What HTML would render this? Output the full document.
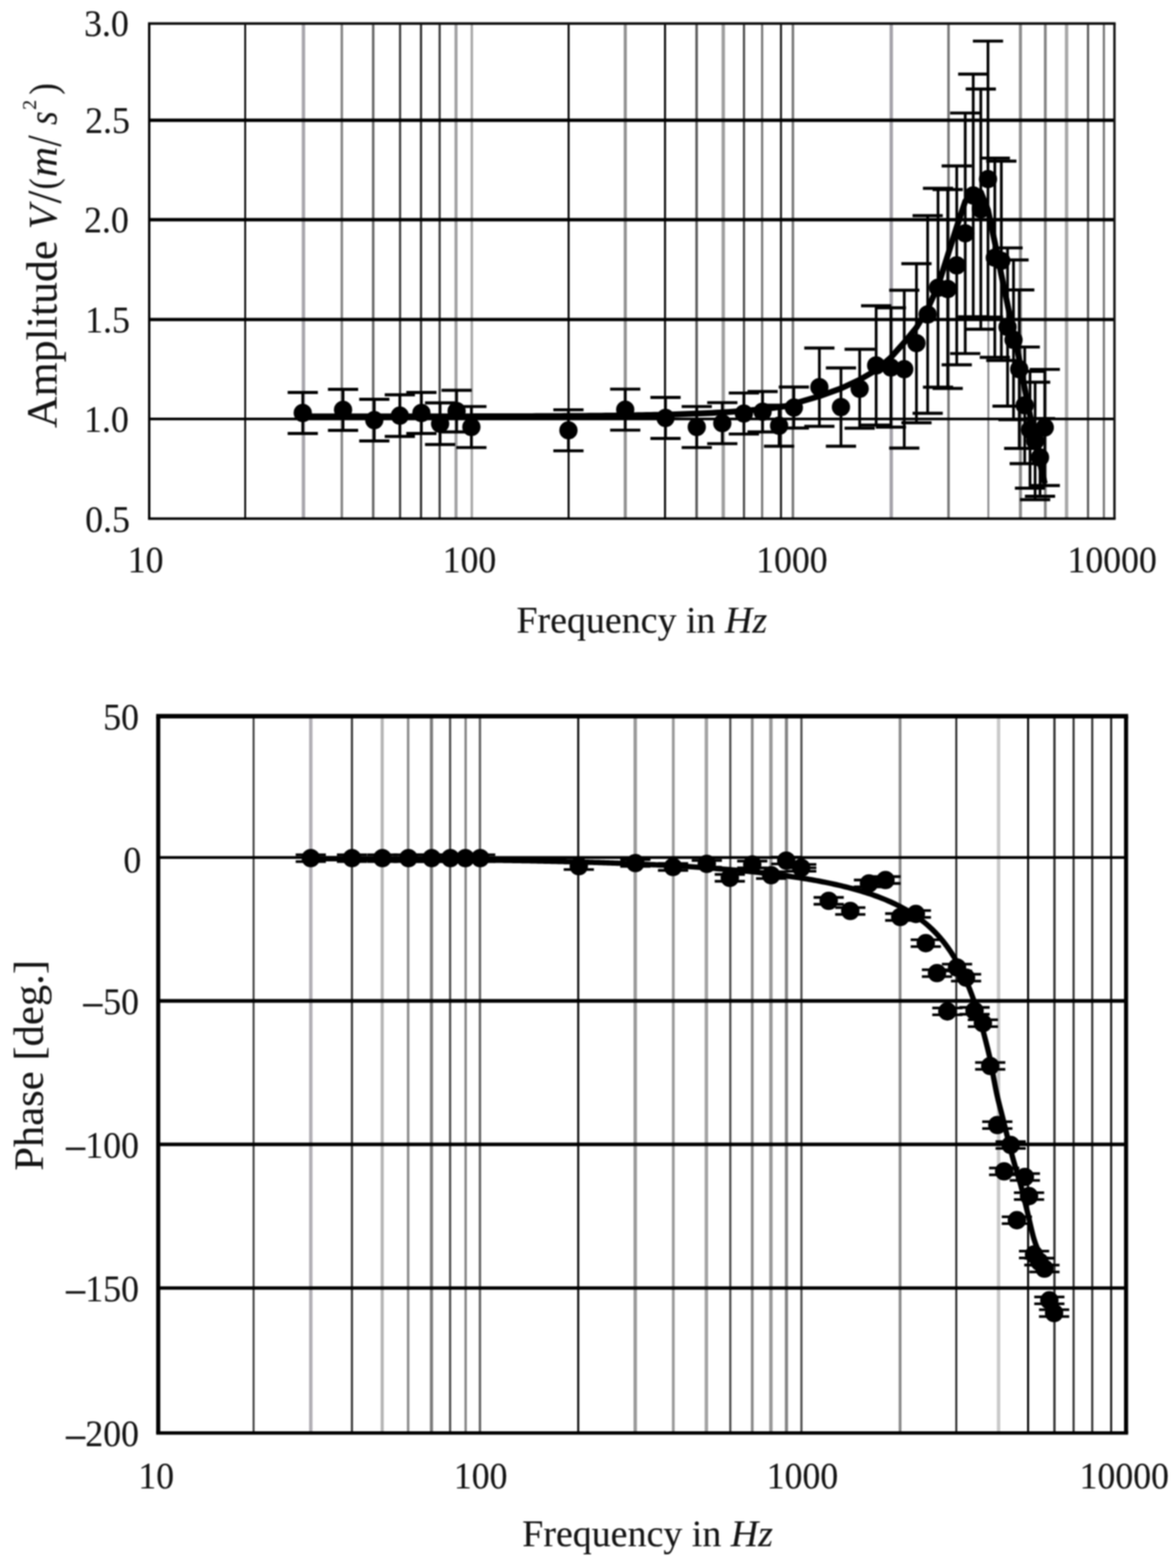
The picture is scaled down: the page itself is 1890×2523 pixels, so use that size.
<!DOCTYPE html>
<html lang="en">
<head>
<meta charset="utf-8">
<title>Frequency response: amplitude and phase</title>
<style>
html,body{margin:0;padding:0;background:#fff;}
body{width:1890px;height:2523px;overflow:hidden;}
svg{display:block;}
</style>
</head>
<body>
<svg width="1890" height="2523" viewBox="0 0 1890 2523">
<defs><filter id="soft" x="-2%" y="-2%" width="104%" height="104%" color-interpolation-filters="sRGB"><feGaussianBlur stdDeviation="1.0"/></filter><filter id="softtext" x="-2%" y="-2%" width="104%" height="104%" color-interpolation-filters="sRGB"><feGaussianBlur stdDeviation="0.8"/></filter></defs>
<rect width="1890" height="2523" fill="#fff"/>
<g filter="url(#soft)">
<g id="top-chart">
<line x1="394.40" y1="37.90" x2="394.40" y2="834.50" stroke="#080808" stroke-width="3.0" />
<line x1="488.10" y1="37.90" x2="488.10" y2="834.50" stroke="#a8a6ac" stroke-width="5.5" />
<line x1="549.80" y1="37.90" x2="549.80" y2="834.50" stroke="#848484" stroke-width="4.0" />
<line x1="600.30" y1="37.90" x2="600.30" y2="834.50" stroke="#666666" stroke-width="4.0" />
<line x1="643.50" y1="37.90" x2="643.50" y2="834.50" stroke="#3a3a3a" stroke-width="3.5" />
<line x1="677.20" y1="37.90" x2="677.20" y2="834.50" stroke="#2b2b2b" stroke-width="3.5" />
<line x1="707.20" y1="37.90" x2="707.20" y2="834.50" stroke="#3a3a3a" stroke-width="3.5" />
<line x1="733.50" y1="37.90" x2="733.50" y2="834.50" stroke="#a2a2a4" stroke-width="5.0" />
<line x1="758.90" y1="37.90" x2="758.90" y2="834.50" stroke="#a8a8a8" stroke-width="4.0" />
<line x1="914.60" y1="37.90" x2="914.60" y2="834.50" stroke="#080808" stroke-width="3.3" />
<line x1="1005.80" y1="37.90" x2="1005.80" y2="834.50" stroke="#909090" stroke-width="5.0" />
<line x1="1069.70" y1="37.90" x2="1069.70" y2="834.50" stroke="#080808" stroke-width="3.3" />
<line x1="1120.50" y1="37.90" x2="1120.50" y2="834.50" stroke="#575757" stroke-width="4.0" />
<line x1="1163.40" y1="37.90" x2="1163.40" y2="834.50" stroke="#9e9e9e" stroke-width="5.5" />
<line x1="1196.70" y1="37.90" x2="1196.70" y2="834.50" stroke="#494949" stroke-width="3.5" />
<line x1="1225.90" y1="37.90" x2="1225.90" y2="834.50" stroke="#747474" stroke-width="3.5" />
<line x1="1256.20" y1="37.90" x2="1256.20" y2="834.50" stroke="#141414" stroke-width="3.2" />
<line x1="1275.40" y1="37.90" x2="1275.40" y2="834.50" stroke="#747474" stroke-width="4.0" />
<line x1="1433.60" y1="37.90" x2="1433.60" y2="834.50" stroke="#a5a3aa" stroke-width="5.5" />
<line x1="1525.70" y1="37.90" x2="1525.70" y2="834.50" stroke="#747474" stroke-width="4.0" />
<line x1="1589.80" y1="512.00" x2="1589.80" y2="834.50" stroke="#868689" stroke-width="3.0" />
<line x1="1641.40" y1="37.90" x2="1641.40" y2="834.50" stroke="#8e8e8e" stroke-width="5.0" />
<line x1="1681.40" y1="37.90" x2="1681.40" y2="834.50" stroke="#838383" stroke-width="4.5" />
<line x1="1715.60" y1="37.90" x2="1715.60" y2="834.50" stroke="#a8a8a8" stroke-width="5.5" />
<line x1="1750.10" y1="37.90" x2="1750.10" y2="834.50" stroke="#575757" stroke-width="3.5" />
<line x1="1775.60" y1="37.90" x2="1775.60" y2="834.50" stroke="#747474" stroke-width="3.5" />
<line x1="240.00" y1="193.50" x2="1792.60" y2="193.50" stroke="#000" stroke-width="5.3" />
<line x1="240.00" y1="353.50" x2="1792.60" y2="353.50" stroke="#000" stroke-width="5.6" />
<line x1="240.00" y1="514.20" x2="1792.60" y2="514.20" stroke="#000" stroke-width="5.3" />
<line x1="240.00" y1="674.20" x2="1792.60" y2="674.20" stroke="#000" stroke-width="4.2" />
<line x1="238.10" y1="37.90" x2="1794.50" y2="37.90" stroke="#111" stroke-width="4.3" />
<line x1="238.10" y1="834.50" x2="1794.50" y2="834.50" stroke="#000" stroke-width="4.2" />
<line x1="240.00" y1="37.90" x2="240.00" y2="834.50" stroke="#000" stroke-width="3.8" />
<line x1="1792.60" y1="37.90" x2="1792.60" y2="834.50" stroke="#111" stroke-width="3.8" />
<line x1="486.98" y1="631.50" x2="486.98" y2="697.50" stroke="#000" stroke-width="4.4" />
<line x1="462.68" y1="631.50" x2="511.28" y2="631.50" stroke="#000" stroke-width="4.9" />
<line x1="462.68" y1="697.50" x2="511.28" y2="697.50" stroke="#000" stroke-width="4.9" />
<line x1="551.79" y1="626.50" x2="551.79" y2="692.50" stroke="#000" stroke-width="4.4" />
<line x1="527.49" y1="626.50" x2="576.09" y2="626.50" stroke="#000" stroke-width="4.9" />
<line x1="527.49" y1="692.50" x2="576.09" y2="692.50" stroke="#000" stroke-width="4.9" />
<line x1="602.06" y1="642.50" x2="602.06" y2="709.50" stroke="#000" stroke-width="4.4" />
<line x1="577.76" y1="642.50" x2="626.36" y2="642.50" stroke="#000" stroke-width="4.9" />
<line x1="577.76" y1="709.50" x2="626.36" y2="709.50" stroke="#000" stroke-width="4.9" />
<line x1="643.13" y1="635.30" x2="643.13" y2="702.30" stroke="#000" stroke-width="4.4" />
<line x1="618.83" y1="635.30" x2="667.43" y2="635.30" stroke="#000" stroke-width="4.9" />
<line x1="618.83" y1="702.30" x2="667.43" y2="702.30" stroke="#000" stroke-width="4.9" />
<line x1="677.85" y1="631.50" x2="677.85" y2="697.50" stroke="#000" stroke-width="4.4" />
<line x1="653.55" y1="631.50" x2="702.15" y2="631.50" stroke="#000" stroke-width="4.9" />
<line x1="653.55" y1="697.50" x2="702.15" y2="697.50" stroke="#000" stroke-width="4.9" />
<line x1="707.93" y1="648.30" x2="707.93" y2="715.30" stroke="#000" stroke-width="4.4" />
<line x1="683.63" y1="648.30" x2="732.23" y2="648.30" stroke="#000" stroke-width="4.9" />
<line x1="683.63" y1="715.30" x2="732.23" y2="715.30" stroke="#000" stroke-width="4.9" />
<line x1="734.47" y1="628.00" x2="734.47" y2="695.00" stroke="#000" stroke-width="4.4" />
<line x1="710.17" y1="628.00" x2="758.77" y2="628.00" stroke="#000" stroke-width="4.9" />
<line x1="710.17" y1="695.00" x2="758.77" y2="695.00" stroke="#000" stroke-width="4.9" />
<line x1="758.20" y1="654.10" x2="758.20" y2="720.10" stroke="#000" stroke-width="4.4" />
<line x1="733.90" y1="654.10" x2="782.50" y2="654.10" stroke="#000" stroke-width="4.9" />
<line x1="733.90" y1="720.10" x2="782.50" y2="720.10" stroke="#000" stroke-width="4.9" />
<line x1="914.34" y1="659.40" x2="914.34" y2="725.40" stroke="#000" stroke-width="4.4" />
<line x1="890.04" y1="659.40" x2="938.64" y2="659.40" stroke="#000" stroke-width="4.9" />
<line x1="890.04" y1="725.40" x2="938.64" y2="725.40" stroke="#000" stroke-width="4.9" />
<line x1="1005.68" y1="626.10" x2="1005.68" y2="692.10" stroke="#000" stroke-width="4.4" />
<line x1="981.38" y1="626.10" x2="1029.98" y2="626.10" stroke="#000" stroke-width="4.9" />
<line x1="981.38" y1="692.10" x2="1029.98" y2="692.10" stroke="#000" stroke-width="4.9" />
<line x1="1070.49" y1="639.50" x2="1070.49" y2="705.50" stroke="#000" stroke-width="4.4" />
<line x1="1046.19" y1="639.50" x2="1094.79" y2="639.50" stroke="#000" stroke-width="4.9" />
<line x1="1046.19" y1="705.50" x2="1094.79" y2="705.50" stroke="#000" stroke-width="4.9" />
<line x1="1120.76" y1="654.10" x2="1120.76" y2="720.10" stroke="#000" stroke-width="4.4" />
<line x1="1096.46" y1="654.10" x2="1145.06" y2="654.10" stroke="#000" stroke-width="4.9" />
<line x1="1096.46" y1="720.10" x2="1145.06" y2="720.10" stroke="#000" stroke-width="4.9" />
<line x1="1161.83" y1="647.90" x2="1161.83" y2="713.90" stroke="#000" stroke-width="4.4" />
<line x1="1137.53" y1="647.90" x2="1186.13" y2="647.90" stroke="#000" stroke-width="4.9" />
<line x1="1137.53" y1="713.90" x2="1186.13" y2="713.90" stroke="#000" stroke-width="4.9" />
<line x1="1196.55" y1="632.40" x2="1196.55" y2="698.40" stroke="#000" stroke-width="4.4" />
<line x1="1172.25" y1="632.40" x2="1220.85" y2="632.40" stroke="#000" stroke-width="4.9" />
<line x1="1172.25" y1="698.40" x2="1220.85" y2="698.40" stroke="#000" stroke-width="4.9" />
<line x1="1226.63" y1="630.00" x2="1226.63" y2="695.00" stroke="#000" stroke-width="4.4" />
<line x1="1202.33" y1="630.00" x2="1250.93" y2="630.00" stroke="#000" stroke-width="4.9" />
<line x1="1202.33" y1="695.00" x2="1250.93" y2="695.00" stroke="#000" stroke-width="4.9" />
<line x1="1253.17" y1="652.00" x2="1253.17" y2="718.00" stroke="#000" stroke-width="4.4" />
<line x1="1228.87" y1="652.00" x2="1277.47" y2="652.00" stroke="#000" stroke-width="4.9" />
<line x1="1228.87" y1="718.00" x2="1277.47" y2="718.00" stroke="#000" stroke-width="4.9" />
<line x1="1276.90" y1="622.80" x2="1276.90" y2="688.80" stroke="#000" stroke-width="4.4" />
<line x1="1252.60" y1="622.80" x2="1301.20" y2="622.80" stroke="#000" stroke-width="4.9" />
<line x1="1252.60" y1="688.80" x2="1301.20" y2="688.80" stroke="#000" stroke-width="4.9" />
<line x1="1317.97" y1="560.00" x2="1317.97" y2="686.00" stroke="#000" stroke-width="4.4" />
<line x1="1293.67" y1="560.00" x2="1342.27" y2="560.00" stroke="#000" stroke-width="4.9" />
<line x1="1293.67" y1="686.00" x2="1342.27" y2="686.00" stroke="#000" stroke-width="4.9" />
<line x1="1352.70" y1="592.00" x2="1352.70" y2="718.00" stroke="#000" stroke-width="4.4" />
<line x1="1328.40" y1="592.00" x2="1377.00" y2="592.00" stroke="#000" stroke-width="4.9" />
<line x1="1328.40" y1="718.00" x2="1377.00" y2="718.00" stroke="#000" stroke-width="4.9" />
<line x1="1382.78" y1="562.00" x2="1382.78" y2="689.00" stroke="#000" stroke-width="4.4" />
<line x1="1358.48" y1="562.00" x2="1407.08" y2="562.00" stroke="#000" stroke-width="4.9" />
<line x1="1358.48" y1="689.00" x2="1407.08" y2="689.00" stroke="#000" stroke-width="4.9" />
<line x1="1409.31" y1="492.00" x2="1409.31" y2="684.00" stroke="#000" stroke-width="4.4" />
<line x1="1385.01" y1="492.00" x2="1433.61" y2="492.00" stroke="#000" stroke-width="4.9" />
<line x1="1385.01" y1="684.00" x2="1433.61" y2="684.00" stroke="#000" stroke-width="4.9" />
<line x1="1433.04" y1="495.30" x2="1433.04" y2="687.30" stroke="#000" stroke-width="4.4" />
<line x1="1408.74" y1="495.30" x2="1457.34" y2="495.30" stroke="#000" stroke-width="4.9" />
<line x1="1408.74" y1="687.30" x2="1457.34" y2="687.30" stroke="#000" stroke-width="4.9" />
<line x1="1454.51" y1="467.00" x2="1454.51" y2="721.00" stroke="#000" stroke-width="4.4" />
<line x1="1430.21" y1="467.00" x2="1478.81" y2="467.00" stroke="#000" stroke-width="4.9" />
<line x1="1430.21" y1="721.00" x2="1478.81" y2="721.00" stroke="#000" stroke-width="4.9" />
<line x1="1474.12" y1="424.20" x2="1474.12" y2="680.20" stroke="#000" stroke-width="4.4" />
<line x1="1449.82" y1="424.20" x2="1498.42" y2="424.20" stroke="#000" stroke-width="4.9" />
<line x1="1449.82" y1="680.20" x2="1498.42" y2="680.20" stroke="#000" stroke-width="4.9" />
<line x1="1492.15" y1="347.00" x2="1492.15" y2="665.00" stroke="#000" stroke-width="4.4" />
<line x1="1467.85" y1="347.00" x2="1516.45" y2="347.00" stroke="#000" stroke-width="4.9" />
<line x1="1467.85" y1="665.00" x2="1516.45" y2="665.00" stroke="#000" stroke-width="4.9" />
<line x1="1508.84" y1="303.00" x2="1508.84" y2="623.00" stroke="#000" stroke-width="4.4" />
<line x1="1484.54" y1="303.00" x2="1533.14" y2="303.00" stroke="#000" stroke-width="4.9" />
<line x1="1484.54" y1="623.00" x2="1533.14" y2="623.00" stroke="#000" stroke-width="4.9" />
<line x1="1524.38" y1="305.00" x2="1524.38" y2="625.00" stroke="#000" stroke-width="4.4" />
<line x1="1500.08" y1="305.00" x2="1548.68" y2="305.00" stroke="#000" stroke-width="4.9" />
<line x1="1500.08" y1="625.00" x2="1548.68" y2="625.00" stroke="#000" stroke-width="4.9" />
<line x1="1538.92" y1="267.00" x2="1538.92" y2="587.00" stroke="#000" stroke-width="4.4" />
<line x1="1514.62" y1="267.00" x2="1563.22" y2="267.00" stroke="#000" stroke-width="4.9" />
<line x1="1514.62" y1="587.00" x2="1563.22" y2="587.00" stroke="#000" stroke-width="4.9" />
<line x1="1552.58" y1="181.90" x2="1552.58" y2="568.90" stroke="#000" stroke-width="4.4" />
<line x1="1528.28" y1="181.90" x2="1576.88" y2="181.90" stroke="#000" stroke-width="4.9" />
<line x1="1528.28" y1="568.90" x2="1576.88" y2="568.90" stroke="#000" stroke-width="4.9" />
<line x1="1565.45" y1="119.20" x2="1565.45" y2="509.80" stroke="#000" stroke-width="4.4" />
<line x1="1541.15" y1="119.20" x2="1589.75" y2="119.20" stroke="#000" stroke-width="4.9" />
<line x1="1541.15" y1="509.80" x2="1589.75" y2="509.80" stroke="#000" stroke-width="4.9" />
<line x1="1577.63" y1="143.30" x2="1577.63" y2="529.70" stroke="#000" stroke-width="4.4" />
<line x1="1553.33" y1="143.30" x2="1601.93" y2="143.30" stroke="#000" stroke-width="4.9" />
<line x1="1553.33" y1="529.70" x2="1601.93" y2="529.70" stroke="#000" stroke-width="4.9" />
<line x1="1589.19" y1="66.10" x2="1589.19" y2="510.30" stroke="#000" stroke-width="4.4" />
<line x1="1564.89" y1="66.10" x2="1613.49" y2="66.10" stroke="#000" stroke-width="4.9" />
<line x1="1564.89" y1="510.30" x2="1613.49" y2="510.30" stroke="#000" stroke-width="4.9" />
<line x1="1600.18" y1="254.40" x2="1600.18" y2="575.00" stroke="#000" stroke-width="4.4" />
<line x1="1575.88" y1="254.40" x2="1624.48" y2="254.40" stroke="#000" stroke-width="4.9" />
<line x1="1575.88" y1="575.00" x2="1624.48" y2="575.00" stroke="#000" stroke-width="4.9" />
<line x1="1610.66" y1="259.20" x2="1610.66" y2="580.00" stroke="#000" stroke-width="4.4" />
<line x1="1586.36" y1="259.20" x2="1634.96" y2="259.20" stroke="#000" stroke-width="4.9" />
<line x1="1586.36" y1="580.00" x2="1634.96" y2="580.00" stroke="#000" stroke-width="4.9" />
<line x1="1620.67" y1="398.90" x2="1620.67" y2="653.50" stroke="#000" stroke-width="4.4" />
<line x1="1596.37" y1="398.90" x2="1644.97" y2="398.90" stroke="#000" stroke-width="4.9" />
<line x1="1596.37" y1="653.50" x2="1644.97" y2="653.50" stroke="#000" stroke-width="4.9" />
<line x1="1630.26" y1="418.30" x2="1630.26" y2="675.30" stroke="#000" stroke-width="4.4" />
<line x1="1605.96" y1="418.30" x2="1654.56" y2="418.30" stroke="#000" stroke-width="4.9" />
<line x1="1605.96" y1="675.30" x2="1654.56" y2="675.30" stroke="#000" stroke-width="4.9" />
<line x1="1639.46" y1="466.50" x2="1639.46" y2="721.50" stroke="#000" stroke-width="4.4" />
<line x1="1615.16" y1="466.50" x2="1663.76" y2="466.50" stroke="#000" stroke-width="4.9" />
<line x1="1615.16" y1="721.50" x2="1663.76" y2="721.50" stroke="#000" stroke-width="4.9" />
<line x1="1648.29" y1="558.40" x2="1648.29" y2="746.00" stroke="#000" stroke-width="4.4" />
<line x1="1623.99" y1="558.40" x2="1672.59" y2="558.40" stroke="#000" stroke-width="4.9" />
<line x1="1623.99" y1="746.00" x2="1672.59" y2="746.00" stroke="#000" stroke-width="4.9" />
<line x1="1656.79" y1="597.50" x2="1656.79" y2="785.50" stroke="#000" stroke-width="4.4" />
<line x1="1632.49" y1="597.50" x2="1681.09" y2="597.50" stroke="#000" stroke-width="4.9" />
<line x1="1632.49" y1="785.50" x2="1681.09" y2="785.50" stroke="#000" stroke-width="4.9" />
<line x1="1664.99" y1="615.00" x2="1664.99" y2="804.00" stroke="#000" stroke-width="4.4" />
<line x1="1640.69" y1="615.00" x2="1689.29" y2="615.00" stroke="#000" stroke-width="4.9" />
<line x1="1640.69" y1="804.00" x2="1689.29" y2="804.00" stroke="#000" stroke-width="4.9" />
<line x1="1672.89" y1="673.50" x2="1672.89" y2="798.50" stroke="#000" stroke-width="4.4" />
<line x1="1648.59" y1="673.50" x2="1697.19" y2="673.50" stroke="#000" stroke-width="4.9" />
<line x1="1648.59" y1="798.50" x2="1697.19" y2="798.50" stroke="#000" stroke-width="4.9" />
<line x1="1680.53" y1="594.40" x2="1680.53" y2="781.20" stroke="#000" stroke-width="4.4" />
<line x1="1656.23" y1="594.40" x2="1704.83" y2="594.40" stroke="#000" stroke-width="4.9" />
<line x1="1656.23" y1="781.20" x2="1704.83" y2="781.20" stroke="#000" stroke-width="4.9" />
<path d="M486.98,670.04 L493.57,670.03 L500.15,670.03 L506.73,670.03 L513.31,670.03 L519.90,670.03 L526.48,670.03 L533.06,670.03 L539.64,670.03 L546.23,670.02 L552.81,670.02 L559.39,670.02 L565.97,670.02 L572.56,670.02 L579.14,670.02 L585.72,670.01 L592.31,670.01 L598.89,670.01 L605.47,670.01 L612.05,670.00 L618.64,670.00 L625.22,670.00 L631.80,669.99 L638.38,669.99 L644.97,669.99 L651.55,669.98 L658.13,669.98 L664.71,669.97 L671.30,669.97 L677.88,669.96 L684.46,669.96 L691.04,669.95 L697.63,669.95 L704.21,669.94 L710.79,669.93 L717.38,669.93 L723.96,669.92 L730.54,669.91 L737.12,669.90 L743.71,669.89 L750.29,669.89 L756.87,669.88 L763.45,669.86 L770.04,669.85 L776.62,669.84 L783.20,669.83 L789.78,669.82 L796.37,669.80 L802.95,669.79 L809.53,669.77 L816.11,669.75 L822.70,669.73 L829.28,669.72 L835.86,669.70 L842.45,669.67 L849.03,669.65 L855.61,669.63 L862.19,669.60 L868.78,669.57 L875.36,669.55 L881.94,669.52 L888.52,669.48 L895.11,669.45 L901.69,669.41 L908.27,669.37 L914.85,669.33 L921.44,669.29 L928.02,669.24 L934.60,669.20 L941.19,669.14 L947.77,669.09 L954.35,669.03 L960.93,668.97 L967.52,668.90 L974.10,668.83 L980.68,668.76 L987.26,668.68 L993.85,668.60 L1000.43,668.51 L1007.01,668.42 L1013.59,668.32 L1020.18,668.22 L1026.76,668.10 L1033.34,667.99 L1039.92,667.86 L1046.51,667.73 L1053.09,667.59 L1059.67,667.44 L1066.26,667.28 L1072.84,667.11 L1079.42,666.93 L1086.00,666.75 L1092.59,666.54 L1099.17,666.33 L1105.75,666.11 L1112.33,665.87 L1118.92,665.61 L1125.50,665.34 L1132.08,665.05 L1138.66,664.75 L1145.25,664.42 L1151.83,664.08 L1158.41,663.71 L1165.00,663.33 L1171.58,662.91 L1178.16,662.48 L1184.74,662.01 L1191.33,661.52 L1197.91,660.99 L1204.49,660.43 L1211.07,659.84 L1217.66,659.20 L1224.24,658.53 L1230.82,657.82 L1237.40,657.06 L1243.99,656.25 L1250.57,655.38 L1257.15,654.46 L1263.73,653.49 L1270.32,652.44 L1276.90,649.50 L1317.97,637.50 L1352.70,625.00 L1382.78,611.00 L1409.31,595.50 L1433.04,575.00 L1454.51,551.00 L1474.12,527.00 L1492.15,497.00 L1508.84,460.00 L1524.38,411.00 L1538.92,365.00 L1552.58,324.00 L1565.45,306.00 L1577.63,309.00 L1589.19,338.00 L1600.18,390.00 L1610.66,442.00 L1620.67,490.00 L1630.26,535.00 L1639.46,578.00 L1648.29,625.00 L1656.79,668.00 L1664.99,708.00 L1672.89,745.00 L1680.53,778.00" fill="none" stroke="#000" stroke-width="9.5" stroke-linejoin="round" stroke-linecap="butt"/>
<circle cx="486.98" cy="664.50" r="14.7" fill="#000"/>
<circle cx="551.79" cy="659.50" r="14.7" fill="#000"/>
<circle cx="602.06" cy="676.00" r="14.7" fill="#000"/>
<circle cx="643.13" cy="668.80" r="14.7" fill="#000"/>
<circle cx="677.85" cy="664.50" r="14.7" fill="#000"/>
<circle cx="707.93" cy="681.80" r="14.7" fill="#000"/>
<circle cx="734.47" cy="661.50" r="14.7" fill="#000"/>
<circle cx="758.20" cy="687.10" r="14.7" fill="#000"/>
<circle cx="914.34" cy="692.40" r="14.7" fill="#000"/>
<circle cx="1005.68" cy="659.10" r="14.7" fill="#000"/>
<circle cx="1070.49" cy="672.50" r="14.7" fill="#000"/>
<circle cx="1120.76" cy="687.10" r="14.7" fill="#000"/>
<circle cx="1161.83" cy="680.90" r="14.7" fill="#000"/>
<circle cx="1196.55" cy="665.40" r="14.7" fill="#000"/>
<circle cx="1226.63" cy="662.50" r="14.7" fill="#000"/>
<circle cx="1253.17" cy="685.00" r="14.7" fill="#000"/>
<circle cx="1276.90" cy="655.80" r="14.7" fill="#000"/>
<circle cx="1317.97" cy="623.00" r="14.7" fill="#000"/>
<circle cx="1352.70" cy="655.00" r="14.7" fill="#000"/>
<circle cx="1382.78" cy="625.50" r="14.7" fill="#000"/>
<circle cx="1409.31" cy="588.00" r="14.7" fill="#000"/>
<circle cx="1433.04" cy="591.30" r="14.7" fill="#000"/>
<circle cx="1454.51" cy="594.00" r="14.7" fill="#000"/>
<circle cx="1474.12" cy="552.20" r="14.7" fill="#000"/>
<circle cx="1492.15" cy="506.00" r="14.7" fill="#000"/>
<circle cx="1508.84" cy="463.00" r="14.7" fill="#000"/>
<circle cx="1524.38" cy="465.00" r="14.7" fill="#000"/>
<circle cx="1538.92" cy="427.00" r="14.7" fill="#000"/>
<circle cx="1552.58" cy="375.40" r="14.7" fill="#000"/>
<circle cx="1565.45" cy="314.50" r="14.7" fill="#000"/>
<circle cx="1577.63" cy="336.50" r="14.7" fill="#000"/>
<circle cx="1589.19" cy="288.20" r="14.7" fill="#000"/>
<circle cx="1600.18" cy="414.70" r="14.7" fill="#000"/>
<circle cx="1610.66" cy="419.60" r="14.7" fill="#000"/>
<circle cx="1620.67" cy="526.20" r="14.7" fill="#000"/>
<circle cx="1630.26" cy="546.80" r="14.7" fill="#000"/>
<circle cx="1639.46" cy="594.00" r="14.7" fill="#000"/>
<circle cx="1648.29" cy="652.20" r="14.7" fill="#000"/>
<circle cx="1656.79" cy="691.50" r="14.7" fill="#000"/>
<circle cx="1664.99" cy="709.50" r="14.7" fill="#000"/>
<circle cx="1672.89" cy="736.00" r="14.7" fill="#000"/>
<circle cx="1680.53" cy="687.80" r="14.7" fill="#000"/>
</g>
<g id="bottom-chart">
<line x1="407.90" y1="1152.40" x2="407.90" y2="2305.70" stroke="#343434" stroke-width="3.0" />
<line x1="499.90" y1="1152.40" x2="499.90" y2="2305.70" stroke="#b0aeb4" stroke-width="5.5" />
<line x1="566.10" y1="1152.40" x2="566.10" y2="2305.70" stroke="#343434" stroke-width="3.4" />
<line x1="614.80" y1="1152.40" x2="614.80" y2="2305.70" stroke="#b4b4b4" stroke-width="5.0" />
<line x1="656.50" y1="1152.40" x2="656.50" y2="2305.70" stroke="#898989" stroke-width="4.0" />
<line x1="694.00" y1="1152.40" x2="694.00" y2="2305.70" stroke="#7a7a7a" stroke-width="5.0" />
<line x1="724.00" y1="1152.40" x2="724.00" y2="2305.70" stroke="#4c4c4c" stroke-width="3.5" />
<line x1="749.00" y1="1152.40" x2="749.00" y2="2305.70" stroke="#898989" stroke-width="4.0" />
<line x1="772.00" y1="1152.40" x2="772.00" y2="2305.70" stroke="#6b6b6b" stroke-width="4.0" />
<line x1="930.10" y1="1152.40" x2="930.10" y2="2305.70" stroke="#090909" stroke-width="3.3" />
<line x1="1021.80" y1="1152.40" x2="1021.80" y2="2305.70" stroke="#999999" stroke-width="5.5" />
<line x1="1083.00" y1="1152.40" x2="1083.00" y2="2305.70" stroke="#999999" stroke-width="4.5" />
<line x1="1136.20" y1="1152.40" x2="1136.20" y2="2305.70" stroke="#a2a2a2" stroke-width="5.5" />
<line x1="1174.70" y1="1152.40" x2="1174.70" y2="2305.70" stroke="#4c4c4c" stroke-width="3.5" />
<line x1="1210.00" y1="1152.40" x2="1210.00" y2="2305.70" stroke="#898989" stroke-width="4.5" />
<line x1="1240.00" y1="1152.40" x2="1240.00" y2="2305.70" stroke="#999999" stroke-width="5.5" />
<line x1="1265.00" y1="1152.40" x2="1265.00" y2="2305.70" stroke="#818181" stroke-width="5.0" />
<line x1="1289.10" y1="1152.40" x2="1289.10" y2="2305.70" stroke="#4c4c4c" stroke-width="3.5" />
<line x1="1447.80" y1="1152.40" x2="1447.80" y2="2305.70" stroke="#898989" stroke-width="4.5" />
<line x1="1538.20" y1="1152.40" x2="1538.20" y2="2305.70" stroke="#222222" stroke-width="3.1" />
<line x1="1606.20" y1="1152.40" x2="1606.20" y2="2305.70" stroke="#c9c9c9" stroke-width="5.5" />
<line x1="1653.70" y1="1152.40" x2="1653.70" y2="2305.70" stroke="#040404" stroke-width="3.3" />
<line x1="1696.10" y1="1152.40" x2="1696.10" y2="2305.70" stroke="#363636" stroke-width="3.8" />
<line x1="1726.90" y1="1152.40" x2="1726.90" y2="2305.70" stroke="#2d2d2d" stroke-width="3.3" />
<line x1="1756.90" y1="1152.40" x2="1756.90" y2="2305.70" stroke="#2d2d2d" stroke-width="3.3" />
<line x1="1787.30" y1="1152.40" x2="1787.30" y2="2305.70" stroke="#1e1e1e" stroke-width="3.3" />
<line x1="254.50" y1="1379.70" x2="1811.30" y2="1379.70" stroke="#000" stroke-width="4.4" />
<line x1="254.50" y1="1610.40" x2="1811.30" y2="1610.40" stroke="#000" stroke-width="6.0" />
<line x1="254.50" y1="1841.40" x2="1811.30" y2="1841.40" stroke="#000" stroke-width="5.6" />
<line x1="254.50" y1="2072.50" x2="1811.30" y2="2072.50" stroke="#000" stroke-width="5.3" />
<line x1="251.20" y1="1152.40" x2="1814.60" y2="1152.40" stroke="#000" stroke-width="7.2" />
<line x1="251.20" y1="2305.70" x2="1814.60" y2="2305.70" stroke="#000" stroke-width="5.4" />
<line x1="254.50" y1="1152.40" x2="254.50" y2="2305.70" stroke="#000" stroke-width="6.6" />
<line x1="1811.30" y1="1152.40" x2="1811.30" y2="2305.70" stroke="#000" stroke-width="6.6" />
<line x1="475.60" y1="1375.30" x2="524.20" y2="1375.30" stroke="#000" stroke-width="4.3" />
<line x1="475.60" y1="1386.30" x2="524.20" y2="1386.30" stroke="#000" stroke-width="4.3" />
<line x1="541.90" y1="1375.30" x2="590.50" y2="1375.30" stroke="#000" stroke-width="4.3" />
<line x1="541.90" y1="1386.30" x2="590.50" y2="1386.30" stroke="#000" stroke-width="4.3" />
<line x1="590.80" y1="1375.30" x2="639.40" y2="1375.30" stroke="#000" stroke-width="4.3" />
<line x1="590.80" y1="1386.30" x2="639.40" y2="1386.30" stroke="#000" stroke-width="4.3" />
<line x1="632.70" y1="1375.30" x2="681.30" y2="1375.30" stroke="#000" stroke-width="4.3" />
<line x1="632.70" y1="1386.30" x2="681.30" y2="1386.30" stroke="#000" stroke-width="4.3" />
<line x1="670.10" y1="1375.30" x2="718.70" y2="1375.30" stroke="#000" stroke-width="4.3" />
<line x1="670.10" y1="1386.30" x2="718.70" y2="1386.30" stroke="#000" stroke-width="4.3" />
<line x1="700.10" y1="1375.30" x2="748.70" y2="1375.30" stroke="#000" stroke-width="4.3" />
<line x1="700.10" y1="1386.30" x2="748.70" y2="1386.30" stroke="#000" stroke-width="4.3" />
<line x1="724.30" y1="1375.30" x2="772.90" y2="1375.30" stroke="#000" stroke-width="4.3" />
<line x1="724.30" y1="1386.30" x2="772.90" y2="1386.30" stroke="#000" stroke-width="4.3" />
<line x1="748.10" y1="1375.30" x2="796.70" y2="1375.30" stroke="#000" stroke-width="4.3" />
<line x1="748.10" y1="1386.30" x2="796.70" y2="1386.30" stroke="#000" stroke-width="4.3" />
<line x1="906.70" y1="1388.20" x2="955.30" y2="1388.20" stroke="#000" stroke-width="4.3" />
<line x1="906.70" y1="1399.20" x2="955.30" y2="1399.20" stroke="#000" stroke-width="4.3" />
<line x1="997.70" y1="1383.20" x2="1046.30" y2="1383.20" stroke="#000" stroke-width="4.3" />
<line x1="997.70" y1="1394.20" x2="1046.30" y2="1394.20" stroke="#000" stroke-width="4.3" />
<line x1="1058.30" y1="1389.50" x2="1106.90" y2="1389.50" stroke="#000" stroke-width="4.3" />
<line x1="1058.30" y1="1400.50" x2="1106.90" y2="1400.50" stroke="#000" stroke-width="4.3" />
<line x1="1112.60" y1="1384.50" x2="1161.20" y2="1384.50" stroke="#000" stroke-width="4.3" />
<line x1="1112.60" y1="1395.50" x2="1161.20" y2="1395.50" stroke="#000" stroke-width="4.3" />
<line x1="1149.60" y1="1407.00" x2="1198.20" y2="1407.00" stroke="#000" stroke-width="4.3" />
<line x1="1149.60" y1="1418.00" x2="1198.20" y2="1418.00" stroke="#000" stroke-width="4.3" />
<line x1="1185.70" y1="1385.50" x2="1234.30" y2="1385.50" stroke="#000" stroke-width="4.3" />
<line x1="1185.70" y1="1396.50" x2="1234.30" y2="1396.50" stroke="#000" stroke-width="4.3" />
<line x1="1216.10" y1="1402.70" x2="1264.70" y2="1402.70" stroke="#000" stroke-width="4.3" />
<line x1="1216.10" y1="1413.70" x2="1264.70" y2="1413.70" stroke="#000" stroke-width="4.3" />
<line x1="1240.40" y1="1379.20" x2="1289.00" y2="1379.20" stroke="#000" stroke-width="4.3" />
<line x1="1240.40" y1="1390.20" x2="1289.00" y2="1390.20" stroke="#000" stroke-width="4.3" />
<line x1="1264.50" y1="1390.80" x2="1313.10" y2="1390.80" stroke="#000" stroke-width="4.3" />
<line x1="1264.50" y1="1401.80" x2="1313.10" y2="1401.80" stroke="#000" stroke-width="4.3" />
<line x1="1264.50" y1="1396.30" x2="1313.10" y2="1396.30" stroke="#000" stroke-width="4.3" />
<line x1="1308.67" y1="1444.00" x2="1357.27" y2="1444.00" stroke="#000" stroke-width="4.3" />
<line x1="1308.67" y1="1455.00" x2="1357.27" y2="1455.00" stroke="#000" stroke-width="4.3" />
<line x1="1343.40" y1="1460.30" x2="1392.00" y2="1460.30" stroke="#000" stroke-width="4.3" />
<line x1="1343.40" y1="1471.30" x2="1392.00" y2="1471.30" stroke="#000" stroke-width="4.3" />
<line x1="1373.48" y1="1416.00" x2="1422.08" y2="1416.00" stroke="#000" stroke-width="4.3" />
<line x1="1373.48" y1="1427.00" x2="1422.08" y2="1427.00" stroke="#000" stroke-width="4.3" />
<line x1="1400.01" y1="1410.50" x2="1448.61" y2="1410.50" stroke="#000" stroke-width="4.3" />
<line x1="1400.01" y1="1421.50" x2="1448.61" y2="1421.50" stroke="#000" stroke-width="4.3" />
<line x1="1423.74" y1="1470.00" x2="1472.34" y2="1470.00" stroke="#000" stroke-width="4.3" />
<line x1="1423.74" y1="1481.00" x2="1472.34" y2="1481.00" stroke="#000" stroke-width="4.3" />
<line x1="1448.90" y1="1465.10" x2="1497.50" y2="1465.10" stroke="#000" stroke-width="4.3" />
<line x1="1448.90" y1="1476.10" x2="1497.50" y2="1476.10" stroke="#000" stroke-width="4.3" />
<line x1="1464.82" y1="1512.10" x2="1513.42" y2="1512.10" stroke="#000" stroke-width="4.3" />
<line x1="1464.82" y1="1523.10" x2="1513.42" y2="1523.10" stroke="#000" stroke-width="4.3" />
<line x1="1482.85" y1="1560.30" x2="1531.45" y2="1560.30" stroke="#000" stroke-width="4.3" />
<line x1="1482.85" y1="1571.30" x2="1531.45" y2="1571.30" stroke="#000" stroke-width="4.3" />
<line x1="1499.54" y1="1621.90" x2="1548.14" y2="1621.90" stroke="#000" stroke-width="4.3" />
<line x1="1499.54" y1="1632.90" x2="1548.14" y2="1632.90" stroke="#000" stroke-width="4.3" />
<line x1="1515.08" y1="1551.30" x2="1563.68" y2="1551.30" stroke="#000" stroke-width="4.3" />
<line x1="1515.08" y1="1562.30" x2="1563.68" y2="1562.30" stroke="#000" stroke-width="4.3" />
<line x1="1529.62" y1="1567.60" x2="1578.22" y2="1567.60" stroke="#000" stroke-width="4.3" />
<line x1="1529.62" y1="1578.60" x2="1578.22" y2="1578.60" stroke="#000" stroke-width="4.3" />
<line x1="1543.28" y1="1621.00" x2="1591.88" y2="1621.00" stroke="#000" stroke-width="4.3" />
<line x1="1543.28" y1="1632.00" x2="1591.88" y2="1632.00" stroke="#000" stroke-width="4.3" />
<line x1="1556.70" y1="1640.90" x2="1605.30" y2="1640.90" stroke="#000" stroke-width="4.3" />
<line x1="1556.70" y1="1651.90" x2="1605.30" y2="1651.90" stroke="#000" stroke-width="4.3" />
<line x1="1568.50" y1="1709.70" x2="1617.10" y2="1709.70" stroke="#000" stroke-width="4.3" />
<line x1="1568.50" y1="1720.70" x2="1617.10" y2="1720.70" stroke="#000" stroke-width="4.3" />
<line x1="1579.89" y1="1804.80" x2="1628.49" y2="1804.80" stroke="#000" stroke-width="4.3" />
<line x1="1579.89" y1="1815.80" x2="1628.49" y2="1815.80" stroke="#000" stroke-width="4.3" />
<line x1="1590.88" y1="1879.30" x2="1639.48" y2="1879.30" stroke="#000" stroke-width="4.3" />
<line x1="1590.88" y1="1890.30" x2="1639.48" y2="1890.30" stroke="#000" stroke-width="4.3" />
<line x1="1601.36" y1="1836.80" x2="1649.96" y2="1836.80" stroke="#000" stroke-width="4.3" />
<line x1="1601.36" y1="1847.80" x2="1649.96" y2="1847.80" stroke="#000" stroke-width="4.3" />
<line x1="1611.37" y1="1957.90" x2="1659.97" y2="1957.90" stroke="#000" stroke-width="4.3" />
<line x1="1611.37" y1="1968.90" x2="1659.97" y2="1968.90" stroke="#000" stroke-width="4.3" />
<line x1="1624.20" y1="1888.30" x2="1672.80" y2="1888.30" stroke="#000" stroke-width="4.3" />
<line x1="1624.20" y1="1899.30" x2="1672.80" y2="1899.30" stroke="#000" stroke-width="4.3" />
<line x1="1630.90" y1="1919.10" x2="1679.50" y2="1919.10" stroke="#000" stroke-width="4.3" />
<line x1="1630.90" y1="1930.10" x2="1679.50" y2="1930.10" stroke="#000" stroke-width="4.3" />
<line x1="1638.99" y1="2013.10" x2="1687.59" y2="2013.10" stroke="#000" stroke-width="4.3" />
<line x1="1638.99" y1="2024.10" x2="1687.59" y2="2024.10" stroke="#000" stroke-width="4.3" />
<line x1="1647.49" y1="2024.50" x2="1696.09" y2="2024.50" stroke="#000" stroke-width="4.3" />
<line x1="1647.49" y1="2035.50" x2="1696.09" y2="2035.50" stroke="#000" stroke-width="4.3" />
<line x1="1655.69" y1="2035.70" x2="1704.29" y2="2035.70" stroke="#000" stroke-width="4.3" />
<line x1="1655.69" y1="2046.70" x2="1704.29" y2="2046.70" stroke="#000" stroke-width="4.3" />
<line x1="1663.59" y1="2086.90" x2="1712.19" y2="2086.90" stroke="#000" stroke-width="4.3" />
<line x1="1663.59" y1="2097.90" x2="1712.19" y2="2097.90" stroke="#000" stroke-width="4.3" />
<line x1="1671.23" y1="2107.30" x2="1719.83" y2="2107.30" stroke="#000" stroke-width="4.3" />
<line x1="1671.23" y1="2118.30" x2="1719.83" y2="2118.30" stroke="#000" stroke-width="4.3" />
<path d="M501.98,1381.63 L505.62,1381.64 L509.25,1381.66 L512.89,1381.67 L516.52,1381.69 L520.16,1381.70 L523.80,1381.72 L527.43,1381.74 L531.07,1381.75 L534.70,1381.77 L538.34,1381.79 L541.97,1381.81 L545.61,1381.82 L549.24,1381.84 L552.88,1381.86 L556.52,1381.88 L560.15,1381.90 L563.79,1381.92 L567.42,1381.94 L571.06,1381.96 L574.69,1381.98 L578.33,1382.00 L581.96,1382.02 L585.60,1382.04 L589.23,1382.06 L592.87,1382.09 L596.51,1382.11 L600.14,1382.13 L603.78,1382.16 L607.41,1382.18 L611.05,1382.20 L614.68,1382.23 L618.32,1382.25 L621.95,1382.28 L625.59,1382.30 L629.23,1382.33 L632.86,1382.36 L636.50,1382.38 L640.13,1382.41 L643.77,1382.44 L647.40,1382.47 L651.04,1382.50 L654.67,1382.52 L658.31,1382.55 L661.94,1382.58 L665.58,1382.62 L669.22,1382.65 L672.85,1382.68 L676.49,1382.71 L680.12,1382.74 L683.76,1382.78 L687.39,1382.81 L691.03,1382.84 L694.66,1382.88 L698.30,1382.91 L701.94,1382.95 L705.57,1382.99 L709.21,1383.02 L712.84,1383.06 L716.48,1383.10 L720.11,1383.14 L723.75,1383.18 L727.38,1383.22 L731.02,1383.26 L734.65,1383.30 L738.29,1383.35 L741.93,1383.39 L745.56,1383.43 L749.20,1383.48 L752.83,1383.52 L756.47,1383.57 L760.10,1383.61 L763.74,1383.66 L767.37,1383.71 L771.01,1383.76 L774.65,1383.81 L778.28,1383.86 L781.92,1383.91 L785.55,1383.96 L789.19,1384.02 L792.82,1384.07 L796.46,1384.13 L800.09,1384.18 L803.73,1384.24 L807.37,1384.30 L811.00,1384.35 L814.64,1384.41 L818.27,1384.47 L821.91,1384.54 L825.54,1384.60 L829.18,1384.66 L832.81,1384.73 L836.45,1384.79 L840.08,1384.86 L843.72,1384.93 L847.36,1385.00 L850.99,1385.07 L854.63,1385.14 L858.26,1385.21 L861.90,1385.28 L865.53,1385.36 L869.17,1385.43 L872.80,1385.51 L876.44,1385.59 L880.08,1385.67 L883.71,1385.75 L887.35,1385.83 L890.98,1385.92 L894.62,1386.00 L898.25,1386.09 L901.89,1386.18 L905.52,1386.26 L909.16,1386.36 L912.79,1386.45 L916.43,1386.54 L920.07,1386.64 L923.70,1386.73 L927.34,1386.83 L930.97,1386.93 L934.61,1387.03 L938.24,1387.14 L941.88,1387.24 L945.51,1387.35 L949.15,1387.46 L952.79,1387.57 L956.42,1387.68 L960.06,1387.80 L963.69,1387.91 L967.33,1388.03 L970.96,1388.15 L974.60,1388.27 L978.23,1388.40 L981.87,1388.52 L985.50,1388.65 L989.14,1388.78 L992.78,1388.91 L996.41,1389.05 L1000.05,1389.18 L1003.68,1389.32 L1007.32,1389.47 L1010.95,1389.61 L1014.59,1389.76 L1018.22,1389.90 L1021.86,1390.06 L1025.50,1390.21 L1029.13,1390.37 L1032.77,1390.52 L1036.40,1390.69 L1040.04,1390.85 L1043.67,1391.02 L1047.31,1391.19 L1050.94,1391.36 L1054.58,1391.54 L1058.21,1391.71 L1061.85,1391.90 L1065.49,1392.08 L1069.12,1392.27 L1072.76,1392.46 L1076.39,1392.65 L1080.03,1392.85 L1083.66,1393.05 L1087.30,1393.26 L1090.93,1393.47 L1094.57,1393.68 L1098.21,1393.89 L1101.84,1394.11 L1105.48,1394.33 L1109.11,1394.56 L1112.75,1394.79 L1116.38,1395.03 L1120.02,1395.26 L1123.65,1395.51 L1127.29,1395.75 L1130.92,1396.00 L1134.56,1396.26 L1138.20,1396.52 L1141.83,1396.78 L1145.47,1397.05 L1149.10,1397.33 L1152.74,1397.61 L1156.37,1397.89 L1160.01,1398.18 L1163.64,1398.47 L1167.28,1398.77 L1170.92,1399.08 L1174.55,1399.39 L1178.19,1399.71 L1181.82,1400.03 L1185.46,1400.35 L1189.09,1400.69 L1192.73,1401.03 L1196.36,1401.37 L1200.00,1401.73 L1203.63,1402.09 L1207.27,1402.45 L1210.91,1402.82 L1214.54,1403.20 L1218.18,1403.59 L1221.81,1403.98 L1225.45,1404.39 L1229.08,1404.80 L1232.72,1405.21 L1236.35,1405.64 L1239.99,1406.07 L1243.63,1406.51 L1247.26,1406.97 L1250.90,1407.42 L1254.53,1407.89 L1258.17,1408.37 L1261.80,1408.86 L1265.44,1409.36 L1269.07,1409.87 L1272.71,1410.39 L1276.34,1410.91 L1279.98,1411.46 L1283.62,1412.01 L1287.25,1412.57 L1290.89,1413.15 L1294.52,1413.73 L1298.16,1414.33 L1301.79,1414.95 L1305.43,1415.58 L1309.06,1416.22 L1312.70,1416.87 L1316.34,1417.54 L1319.97,1418.23 L1323.61,1418.93 L1327.24,1419.65 L1330.88,1420.39 L1334.51,1421.14 L1338.15,1421.91 L1341.78,1422.70 L1345.42,1423.51 L1349.06,1424.34 L1352.69,1425.18 L1356.33,1426.06 L1359.96,1426.95 L1363.60,1427.87 L1367.23,1428.81 L1370.87,1429.77 L1374.50,1430.77 L1378.14,1431.79 L1381.77,1432.83 L1385.41,1433.91 L1389.05,1435.02 L1392.68,1436.16 L1396.32,1437.33 L1399.95,1438.54 L1403.59,1439.79 L1407.22,1441.07 L1410.86,1442.40 L1414.49,1443.76 L1418.13,1445.17 L1421.77,1446.63 L1425.40,1448.14 L1429.04,1449.69 L1432.67,1451.30 L1436.31,1452.97 L1439.94,1454.70 L1443.58,1456.49 L1447.21,1458.34 L1450.85,1460.27 L1454.48,1462.27 L1458.12,1464.35 L1461.76,1466.51 L1465.39,1468.77 L1469.03,1471.11 L1472.66,1473.56 L1476.30,1476.11 L1479.93,1478.78 L1483.57,1481.57 L1487.20,1484.49 L1490.84,1487.55 L1494.48,1490.75 L1498.11,1494.12 L1501.75,1497.66 L1505.38,1501.37 L1509.02,1505.29 L1512.65,1509.42 L1516.29,1513.78 L1519.92,1518.38 L1523.56,1523.25 L1527.19,1528.41 L1530.83,1533.88 L1534.47,1539.68 L1538.10,1545.84 L1541.74,1552.40 L1545.37,1559.38 L1549.01,1566.81 L1552.64,1574.74 L1556.28,1583.20 L1559.91,1592.22 L1563.55,1601.84 L1567.19,1612.10 L1570.82,1623.04 L1574.46,1634.69 L1578.09,1647.06 L1581.73,1660.18 L1585.36,1674.05 L1589.00,1688.66 L1592.63,1703.96 C1594.41,1713.30 1600.02,1744.63 1603.30,1760.00 C1606.58,1775.37 1608.08,1779.32 1612.30,1796.20 C1616.52,1813.08 1623.77,1843.22 1628.60,1861.30 C1633.43,1879.38 1637.38,1890.23 1641.30,1904.70 C1645.22,1919.17 1648.48,1933.33 1652.10,1948.10 C1655.72,1962.87 1659.68,1981.82 1663.00,1993.30 C1666.32,2004.78 1669.17,2010.05 1672.00,2017.00 C1674.83,2023.95 1678.67,2032.00 1680.00,2035.00" fill="none" stroke="#000" stroke-width="8.6" stroke-linejoin="round"/>
<circle cx="499.90" cy="1380.80" r="14.8" fill="#000"/>
<circle cx="566.20" cy="1380.80" r="14.8" fill="#000"/>
<circle cx="615.10" cy="1380.80" r="14.8" fill="#000"/>
<circle cx="657.00" cy="1380.80" r="14.8" fill="#000"/>
<circle cx="694.40" cy="1380.80" r="14.8" fill="#000"/>
<circle cx="724.40" cy="1380.80" r="14.8" fill="#000"/>
<circle cx="748.60" cy="1380.80" r="14.8" fill="#000"/>
<circle cx="772.40" cy="1380.80" r="14.8" fill="#000"/>
<circle cx="931.00" cy="1393.70" r="14.8" fill="#000"/>
<circle cx="1022.00" cy="1388.70" r="14.8" fill="#000"/>
<circle cx="1082.60" cy="1395.00" r="14.8" fill="#000"/>
<circle cx="1136.90" cy="1390.00" r="14.8" fill="#000"/>
<circle cx="1173.90" cy="1412.50" r="14.8" fill="#000"/>
<circle cx="1210.00" cy="1391.00" r="14.8" fill="#000"/>
<circle cx="1240.40" cy="1408.20" r="14.8" fill="#000"/>
<circle cx="1264.70" cy="1384.70" r="14.8" fill="#000"/>
<circle cx="1288.80" cy="1396.30" r="14.8" fill="#000"/>
<circle cx="1332.97" cy="1449.50" r="14.8" fill="#000"/>
<circle cx="1367.70" cy="1465.80" r="14.8" fill="#000"/>
<circle cx="1397.78" cy="1421.50" r="14.8" fill="#000"/>
<circle cx="1424.31" cy="1416.00" r="14.8" fill="#000"/>
<circle cx="1448.04" cy="1475.50" r="14.8" fill="#000"/>
<circle cx="1473.20" cy="1470.60" r="14.8" fill="#000"/>
<circle cx="1489.12" cy="1517.60" r="14.8" fill="#000"/>
<circle cx="1507.15" cy="1565.80" r="14.8" fill="#000"/>
<circle cx="1523.84" cy="1627.40" r="14.8" fill="#000"/>
<circle cx="1539.38" cy="1556.80" r="14.8" fill="#000"/>
<circle cx="1553.92" cy="1573.10" r="14.8" fill="#000"/>
<circle cx="1567.58" cy="1626.50" r="14.8" fill="#000"/>
<circle cx="1581.00" cy="1646.40" r="14.8" fill="#000"/>
<circle cx="1592.80" cy="1715.20" r="14.8" fill="#000"/>
<circle cx="1604.19" cy="1810.30" r="14.8" fill="#000"/>
<circle cx="1615.18" cy="1884.80" r="14.8" fill="#000"/>
<circle cx="1625.66" cy="1842.30" r="14.8" fill="#000"/>
<circle cx="1635.67" cy="1963.40" r="14.8" fill="#000"/>
<circle cx="1648.50" cy="1893.80" r="14.8" fill="#000"/>
<circle cx="1655.20" cy="1924.60" r="14.8" fill="#000"/>
<circle cx="1663.29" cy="2018.60" r="14.8" fill="#000"/>
<circle cx="1671.79" cy="2030.00" r="14.8" fill="#000"/>
<circle cx="1679.99" cy="2041.20" r="14.8" fill="#000"/>
<circle cx="1687.89" cy="2092.40" r="14.8" fill="#000"/>
<circle cx="1695.53" cy="2112.80" r="14.8" fill="#000"/>
</g>
</g>
<g id="labels" font-family="'Liberation Serif', 'DejaVu Serif', serif" stroke="#141414" stroke-width="0.2" stroke-linejoin="round" filter="url(#softtext)">
<text fill="#141414"><tspan x="135.31" y="58.20" font-size="61" textLength="71.90" lengthAdjust="spacingAndGlyphs">3.0</tspan></text>
<text fill="#141414"><tspan x="137.11" y="214.20" font-size="61" textLength="71.90" lengthAdjust="spacingAndGlyphs">2.5</tspan></text>
<text fill="#141414"><tspan x="135.31" y="374.20" font-size="61" textLength="71.90" lengthAdjust="spacingAndGlyphs">2.0</tspan></text>
<text fill="#141414"><tspan x="137.11" y="534.90" font-size="61" textLength="71.90" lengthAdjust="spacingAndGlyphs">1.5</tspan></text>
<text fill="#141414"><tspan x="135.31" y="694.90" font-size="61" textLength="71.90" lengthAdjust="spacingAndGlyphs">1.0</tspan></text>
<text fill="#141414"><tspan x="137.11" y="856.10" font-size="61" textLength="71.90" lengthAdjust="spacingAndGlyphs">0.5</tspan></text>
<text fill="#141414"><tspan x="205.39" y="920.60" font-size="61" textLength="57.52" lengthAdjust="spacingAndGlyphs">10</tspan></text>
<text fill="#141414"><tspan x="711.91" y="920.60" font-size="61" textLength="86.28" lengthAdjust="spacingAndGlyphs">100</tspan></text>
<text fill="#141414"><tspan x="1216.13" y="920.60" font-size="61" textLength="115.05" lengthAdjust="spacingAndGlyphs">1000</tspan></text>
<text fill="#141414"><tspan x="1716.95" y="920.60" font-size="61" textLength="143.81" lengthAdjust="spacingAndGlyphs">10000</tspan></text>
<text x="830.7" y="1018.2" font-size="61" fill="#141414">Frequency in <tspan font-style="italic">Hz</tspan></text>
<text transform="rotate(-90)" fill="#141414"><tspan x="-688.70" y="90.80" font-size="69" textLength="301.59" lengthAdjust="spacingAndGlyphs">Amplitude</tspan> <tspan x="-368.77" y="90.80" font-size="66" font-style="italic" textLength="38.78" lengthAdjust="spacingAndGlyphs">V</tspan><tspan x="-327.60" y="97.30" font-size="79" textLength="20.84" lengthAdjust="spacingAndGlyphs">/</tspan><tspan x="-304.83" y="90.80" font-size="63" textLength="17.76" lengthAdjust="spacingAndGlyphs">(</tspan><tspan x="-285.02" y="90.80" font-size="66" font-style="italic" textLength="48.69" lengthAdjust="spacingAndGlyphs">m</tspan><tspan x="-235.90" y="97.30" font-size="79" textLength="18.26" lengthAdjust="spacingAndGlyphs">/</tspan> <tspan x="-201.06" y="90.80" font-size="66" font-style="italic" textLength="21.90" lengthAdjust="spacingAndGlyphs">s</tspan><tspan x="-176.78" y="58.00" font-size="32" textLength="15.98" lengthAdjust="spacingAndGlyphs">2</tspan><tspan x="-152.26" y="90.80" font-size="63" textLength="18.44" lengthAdjust="spacingAndGlyphs">)</tspan></text>
<text fill="#141414"><tspan x="165.89" y="1173.90" font-size="61" textLength="57.52" lengthAdjust="spacingAndGlyphs">50</tspan></text>
<text fill="#141414"><tspan x="198.45" y="1403.70" font-size="61" textLength="28.76" lengthAdjust="spacingAndGlyphs">0</tspan></text>
<text fill="#141414"><tspan x="130.80" y="1638.20" font-size="61" stroke-width="1.0" textLength="37.15" lengthAdjust="spacingAndGlyphs">−</tspan><tspan x="165.89" y="1631.90" font-size="61" textLength="57.52" lengthAdjust="spacingAndGlyphs">50</tspan></text>
<text fill="#141414"><tspan x="103.10" y="1869.20" font-size="61" stroke-width="1.0" textLength="37.15" lengthAdjust="spacingAndGlyphs">−</tspan><tspan x="137.13" y="1862.90" font-size="61" textLength="86.28" lengthAdjust="spacingAndGlyphs">100</tspan></text>
<text fill="#141414"><tspan x="103.10" y="2100.30" font-size="61" stroke-width="1.0" textLength="37.15" lengthAdjust="spacingAndGlyphs">−</tspan><tspan x="137.13" y="2094.00" font-size="61" textLength="86.28" lengthAdjust="spacingAndGlyphs">150</tspan></text>
<text fill="#141414"><tspan x="103.10" y="2333.50" font-size="61" stroke-width="1.0" textLength="37.15" lengthAdjust="spacingAndGlyphs">−</tspan><tspan x="137.13" y="2327.20" font-size="61" textLength="86.28" lengthAdjust="spacingAndGlyphs">200</tspan></text>
<text fill="#141414"><tspan x="222.59" y="2395.30" font-size="61" textLength="57.52" lengthAdjust="spacingAndGlyphs">10</tspan></text>
<text fill="#141414"><tspan x="730.01" y="2395.30" font-size="61" textLength="86.28" lengthAdjust="spacingAndGlyphs">100</tspan></text>
<text fill="#141414"><tspan x="1233.13" y="2395.30" font-size="61" textLength="115.05" lengthAdjust="spacingAndGlyphs">1000</tspan></text>
<text fill="#141414"><tspan x="1736.45" y="2395.30" font-size="61" textLength="143.81" lengthAdjust="spacingAndGlyphs">10000</tspan></text>
<text x="840" y="2487.6" font-size="61" fill="#141414">Frequency in <tspan font-style="italic">Hz</tspan></text>
<text transform="rotate(-90)" fill="#141414"><tspan x="-1883.87" y="68.70" font-size="67" textLength="339.18" lengthAdjust="spacingAndGlyphs">Phase [deg.]</tspan></text>
</g>
</svg>
</body>
</html>
